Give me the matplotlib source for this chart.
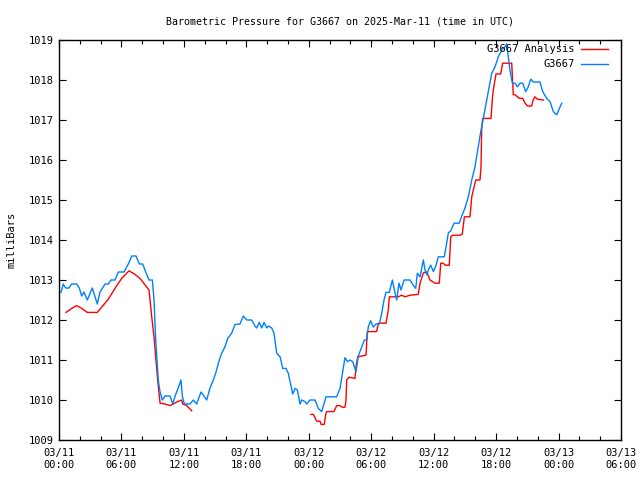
import matplotlib
matplotlib.use("Agg")
import matplotlib.pyplot as plt
import numpy as np

# hours since 03/11 00:00 UTC
obs_hours = [0.19, 0.41, 0.64, 0.96, 1.22, 1.70, 1.95, 2.18, 2.40, 2.72, 3.20, 3.68, 3.94,
             4.42, 4.74, 5.00, 5.38, 5.70, 6.25, 6.66, 6.99, 7.40, 7.72, 8.04, 8.33, 8.65,
             8.97, 9.13, 9.29, 9.54, 9.71, 9.93, 10.19, 10.67, 10.93, 11.15, 11.46, 11.72,
             11.85, 12.04, 12.59, 12.90, 13.23, 13.64, 14.19, 14.51, 14.83, 15.09, 15.40,
             15.63, 15.95, 16.21, 16.59, 16.91, 17.39, 17.71, 18.04, 18.52, 18.83, 19.00,
             19.25, 19.48, 19.70, 19.96, 20.11, 20.44, 20.66, 20.92, 21.24, 21.50, 21.81,
             22.03, 22.20, 22.46, 22.68, 22.90, 23.16, 23.32, 23.64, 23.80, 24.12, 24.60,
             24.92, 25.24, 25.66, 26.68, 27.00, 27.26, 27.48, 27.70, 27.96, 28.22, 28.54,
             28.76, 29.09, 29.34, 29.57, 29.72, 29.95, 30.20, 30.46, 30.78, 31.01, 31.23,
             31.42, 31.74, 32.03, 32.29, 32.45, 32.67, 32.86, 33.15, 33.73, 34.04, 34.28,
             34.43, 34.69, 34.91, 35.01, 35.17, 35.33, 35.55, 35.72, 35.97, 36.23, 36.45,
             37.02, 37.25, 37.41, 37.64, 37.96, 38.46, 38.70, 39.01, 39.33, 39.66, 39.97,
             40.29, 40.55, 40.77, 41.10, 41.25, 41.58, 41.90, 42.21, 42.54, 42.86, 43.02,
             43.33, 43.56, 43.82, 44.04, 44.30, 44.56, 44.84, 45.04, 45.33, 45.58, 45.83,
             46.22, 46.48, 46.86, 47.18, 47.50, 47.82, 48.30]
obs_mb = [1012.69, 1012.9, 1012.8, 1012.8, 1012.9, 1012.9, 1012.8, 1012.6, 1012.7, 1012.5,
          1012.8, 1012.4, 1012.7, 1012.9, 1012.9, 1013.0, 1013.0, 1013.2, 1013.2, 1013.4,
          1013.6, 1013.6, 1013.4, 1013.4, 1013.2, 1013.0, 1013.0, 1012.5, 1011.5, 1010.5,
          1010.2, 1010.0, 1010.1, 1010.1, 1009.9, 1010.1, 1010.3, 1010.5, 1010.1, 1009.9,
          1009.9, 1010.0, 1009.9, 1010.2, 1010.0, 1010.3, 1010.5, 1010.7, 1011.0, 1011.17,
          1011.33, 1011.54, 1011.67, 1011.89, 1011.9, 1012.1, 1012.0, 1012.0, 1011.85,
          1011.8, 1011.94, 1011.8, 1011.94, 1011.8, 1011.85, 1011.8, 1011.67, 1011.17,
          1011.08, 1010.79, 1010.79, 1010.67, 1010.46, 1010.15, 1010.29, 1010.25, 1009.9,
          1010.0, 1009.96, 1009.9, 1010.0, 1010.0, 1009.79, 1009.71, 1010.08, 1010.08,
          1010.29, 1010.7, 1011.06, 1010.96, 1011.0, 1010.96, 1010.71, 1011.1, 1011.33,
          1011.5, 1011.5, 1011.83, 1011.98, 1011.82, 1011.9, 1011.9, 1012.17, 1012.5,
          1012.69, 1012.69, 1013.0, 1012.67, 1012.5, 1012.92, 1012.75, 1013.0, 1013.0,
          1012.87, 1012.79, 1013.17, 1013.08, 1013.37, 1013.5, 1013.25, 1013.13, 1013.29,
          1013.37, 1013.21, 1013.37, 1013.58, 1013.58, 1013.92, 1014.18, 1014.23, 1014.42,
          1014.42, 1014.6, 1014.8, 1015.08, 1015.5, 1015.83, 1016.33, 1016.75, 1017.04,
          1017.5, 1017.7, 1018.17, 1018.33, 1018.58, 1018.75, 1018.83, 1018.9, 1018.25,
          1017.92, 1017.92, 1017.83, 1017.92, 1017.92, 1017.71, 1017.8, 1018.02, 1017.95,
          1017.95, 1017.95, 1017.71, 1017.54, 1017.46, 1017.21, 1017.13, 1017.42]

ana_hours = [0.67, 1.22, 1.70, 2.18, 2.72, 3.68, 4.26, 4.74, 5.38, 6.02, 6.73, 7.30, 7.78,
             8.20, 8.65, 8.91, 9.13, 9.29, 9.48, 9.71, 10.19, 10.67, 10.98, 11.31, 11.79,
             11.89, 12.27, 12.75, 18.0,
             24.21, 24.44, 24.76, 25.08, 25.18, 25.49, 25.63, 25.72, 26.04, 26.42, 26.68,
             27.00, 27.22, 27.48, 27.58, 27.64, 27.86, 28.44, 28.54, 28.70, 29.50, 29.62,
             30.52, 30.68, 31.42, 31.64, 31.74, 32.60, 32.93, 33.25, 33.73, 34.52, 34.69,
             35.01, 35.33, 35.65, 36.13, 36.54, 36.68, 36.93, 37.09, 37.50, 37.64, 37.83,
             38.53, 38.75, 38.95, 39.49, 39.66, 39.81, 40.04, 40.45, 40.55, 40.61, 40.71,
             41.51, 41.63, 41.73, 41.99, 42.44, 42.63, 43.50, 43.65, 43.82, 44.24, 44.56,
             44.76, 45.02, 45.41, 45.56, 45.73, 45.96, 46.54]
ana_mb = [1012.19, 1012.29, 1012.36, 1012.29, 1012.19, 1012.19, 1012.37, 1012.52, 1012.79,
          1013.04, 1013.23, 1013.14, 1013.04, 1012.9, 1012.75, 1012.08, 1011.58, 1011.08,
          1010.5, 1009.92, 1009.9, 1009.86, 1009.9, 1009.95, 1010.0, 1009.9, 1009.86,
          1009.73, np.nan,
          1009.64, 1009.64, 1009.47, 1009.47, 1009.39, 1009.39, 1009.64, 1009.71, 1009.71,
          1009.71, 1009.86, 1009.86, 1009.82, 1009.82, 1010.0, 1010.5, 1010.57, 1010.54,
          1010.83, 1011.08, 1011.12, 1011.71, 1011.71, 1011.92, 1011.92, 1012.25, 1012.58,
          1012.58, 1012.62, 1012.58, 1012.62, 1012.64, 1012.92, 1013.18, 1013.2, 1013.0,
          1012.92, 1012.92, 1013.42, 1013.42, 1013.37, 1013.37, 1014.08, 1014.12, 1014.12,
          1014.15, 1014.58, 1014.58, 1015.08, 1015.25, 1015.5, 1015.5, 1015.83, 1016.75,
          1017.04, 1017.04, 1017.5, 1017.75, 1018.15, 1018.15, 1018.42, 1018.42, 1017.63,
          1017.63, 1017.54, 1017.54, 1017.43, 1017.35, 1017.35, 1017.5, 1017.58, 1017.52,
          1017.5]

tick_hours = list(range(0, 55, 6))
tick_labels = ['03/11\n00:00', '03/11\n06:00', '03/11\n12:00', '03/11\n18:00',
               '03/12\n00:00', '03/12\n06:00', '03/12\n12:00', '03/12\n18:00',
               '03/13\n00:00', '03/13\n06:00']

plt.rcParams['font.family'] = 'DejaVu Sans Mono'
plt.rcParams['font.size'] = 7.5

fig = plt.figure(figsize=(6.4, 4.8), dpi=100)
ax = fig.add_axes([59 / 640, 40 / 480, 562 / 640, 400 / 480])

ax.plot(ana_hours, ana_mb, color='#ff0000', lw=1, label='G3667 Analysis')
ax.plot(obs_hours, obs_mb, color='#0080ff', lw=1, label='G3667')

ax.set_xlim(0, 54)
ax.set_ylim(1009, 1019)
ax.set_xticks(tick_hours)
ax.set_xticklabels(tick_labels)
ax.set_xticks(range(0, 55, 2), minor=True)
ax.set_yticks(range(1009, 1020))
ax.tick_params(direction='in', which='both', top=True, right=True)
ax.tick_params(which='major', length=5, width=0.8)
ax.tick_params(which='minor', length=3, width=0.8)
ax.tick_params(axis='x', pad=6)
for s in ax.spines.values():
    s.set_linewidth(1)

ax.set_title('Barometric Pressure for G3667 on 2025-Mar-11 (time in UTC)',
             fontsize=7.2, pad=11)
ax.set_ylabel('milliBars', labelpad=9)
ax.legend(loc='upper right', frameon=False, markerfirst=False, handlelength=2.6,
          bbox_to_anchor=(1 - 6 / 562, 1 + 3 / 400), borderaxespad=0.3,
          labelspacing=0.5, handletextpad=0.6)

fig.savefig('out.png', dpi=100)
